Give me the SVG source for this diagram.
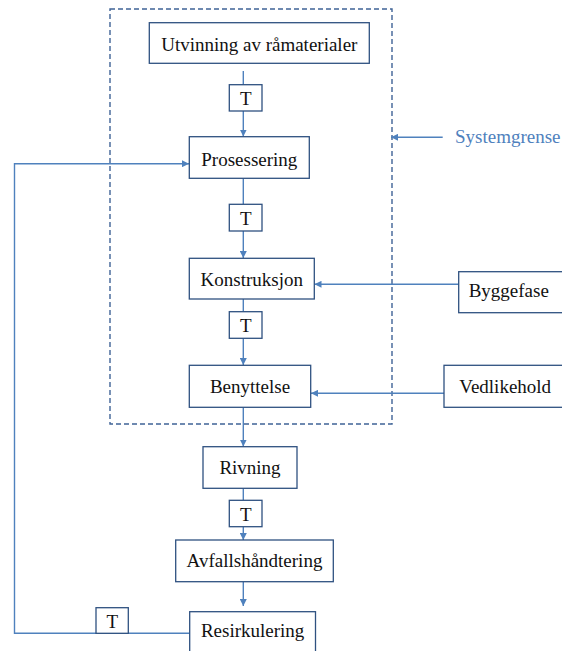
<svg xmlns="http://www.w3.org/2000/svg" width="562" height="651" viewBox="0 0 562 651">
  <defs>
    <style>
      .box { fill: #ffffff; stroke: #2f5180; stroke-width: 1.3; }
      .lbl { font-family: "Liberation Serif", "Times New Roman", serif; font-size: 19px; fill: #111111; text-anchor: middle; }
      .lbl-l { font-family: "Liberation Serif", "Times New Roman", serif; font-size: 19px; fill: #111111; }
      .flow { fill: none; stroke: #4f81bd; stroke-width: 1.4; }
      .boundary { fill: none; stroke: #3f6396; stroke-width: 1.4; stroke-dasharray: 5 3; }
      .note { font-family: "Liberation Serif", "Times New Roman", serif; font-size: 19px; fill: #4f81bd; }
    </style>
    <marker id="arrow" viewBox="0 0 10 10" refX="10" refY="5" markerWidth="7" markerHeight="7" markerUnits="userSpaceOnUse" orient="auto">
      <path d="M0,0 L10,5 L0,10 z" fill="#4f81bd"/>
    </marker>
  </defs>

  <rect width="562" height="651" fill="#ffffff"/>

  <!-- system boundary -->
  <rect class="boundary" x="110" y="9" width="282" height="415"/>

  <!-- connectors -->
  <g id="connectors">
    <line class="flow" x1="243.3" y1="71" x2="243.3" y2="85"/>
    <line class="flow" x1="243.3" y1="111" x2="243.3" y2="136.5" marker-end="url(#arrow)"/>
    <line class="flow" x1="243.3" y1="178.3" x2="243.3" y2="204.3"/>
    <line class="flow" x1="243.3" y1="231" x2="243.3" y2="258" marker-end="url(#arrow)"/>
    <line class="flow" x1="243.3" y1="299" x2="243.3" y2="311.7"/>
    <line class="flow" x1="243.3" y1="338.3" x2="243.3" y2="365" marker-end="url(#arrow)"/>
    <line class="flow" x1="243.3" y1="407.3" x2="243.3" y2="446.5" marker-end="url(#arrow)"/>
    <line class="flow" x1="243.3" y1="488.3" x2="243.3" y2="500.3"/>
    <line class="flow" x1="243.3" y1="526.7" x2="243.3" y2="540" marker-end="url(#arrow)"/>
    <line class="flow" x1="243.3" y1="581.7" x2="243.3" y2="606" marker-end="url(#arrow)"/>
    <line class="flow" x1="458.7" y1="284.3" x2="314.5" y2="284.3" marker-end="url(#arrow)"/>
    <line class="flow" x1="444" y1="393.3" x2="311" y2="393.3" marker-end="url(#arrow)"/>
    <polyline class="flow" points="189.7,633.3 14.5,633.3 14.5,163.7 189,163.7" marker-end="url(#arrow)"/>
    <line class="flow" x1="442.7" y1="137.3" x2="391" y2="137.3" marker-end="url(#arrow)"/>
  </g>

  <text class="note" x="455" y="142.5">Systemgrense</text>

  <g id="utvinning">
    <rect class="box" x="149.3" y="22.7" width="220" height="40.6"/>
    <text class="lbl" x="259.3" y="51">Utvinning av råmaterialer</text>
  </g>
  <g id="t1">
    <rect class="box" x="229.3" y="84.7" width="32.7" height="26.3"/>
    <text class="lbl" x="245.7" y="105.3">T</text>
  </g>
  <g id="prosessering">
    <rect class="box" x="189.3" y="136.7" width="120" height="41.6"/>
    <text class="lbl" x="249.3" y="165.7">Prosessering</text>
  </g>
  <g id="t2">
    <rect class="box" x="229.3" y="204.3" width="32.7" height="26.7"/>
    <text class="lbl" x="245.7" y="224.8">T</text>
  </g>
  <g id="konstruksjon">
    <rect class="box" x="189.3" y="258.3" width="125" height="40.7"/>
    <text class="lbl" x="251.8" y="285.5">Konstruksjon</text>
  </g>
  <g id="byggefase">
    <rect class="box" x="458.7" y="271.7" width="110" height="41"/>
    <text class="lbl-l" x="468.7" y="297">Byggefase</text>
  </g>
  <g id="t3">
    <rect class="box" x="229.3" y="311.7" width="32.7" height="26.6"/>
    <text class="lbl" x="245.7" y="332">T</text>
  </g>
  <g id="benyttelse">
    <rect class="box" x="189.3" y="365.3" width="121.4" height="42"/>
    <text class="lbl" x="250" y="393.3">Benyttelse</text>
  </g>
  <g id="vedlikehold">
    <rect class="box" x="444" y="365.3" width="125" height="42"/>
    <text class="lbl-l" x="459.3" y="393.3">Vedlikehold</text>
  </g>
  <g id="rivning">
    <rect class="box" x="203" y="446.7" width="94" height="41.6"/>
    <text class="lbl" x="250" y="474">Rivning</text>
  </g>
  <g id="t4">
    <rect class="box" x="229.3" y="500.3" width="32.7" height="26.4"/>
    <text class="lbl" x="245.7" y="520.8">T</text>
  </g>
  <g id="avfallshandtering">
    <rect class="box" x="175.7" y="540" width="157.6" height="41.7"/>
    <text class="lbl" x="254.5" y="567.3">Avfallshåndtering</text>
  </g>
  <g id="t5">
    <rect class="box" x="96" y="607.7" width="32.3" height="25.6"/>
    <text class="lbl" x="112.2" y="627.5">T</text>
  </g>
  <g id="resirkulering">
    <rect class="box" x="189.7" y="611.7" width="125.8" height="50"/>
    <text class="lbl" x="252.6" y="637.3">Resirkulering</text>
  </g>
</svg>
